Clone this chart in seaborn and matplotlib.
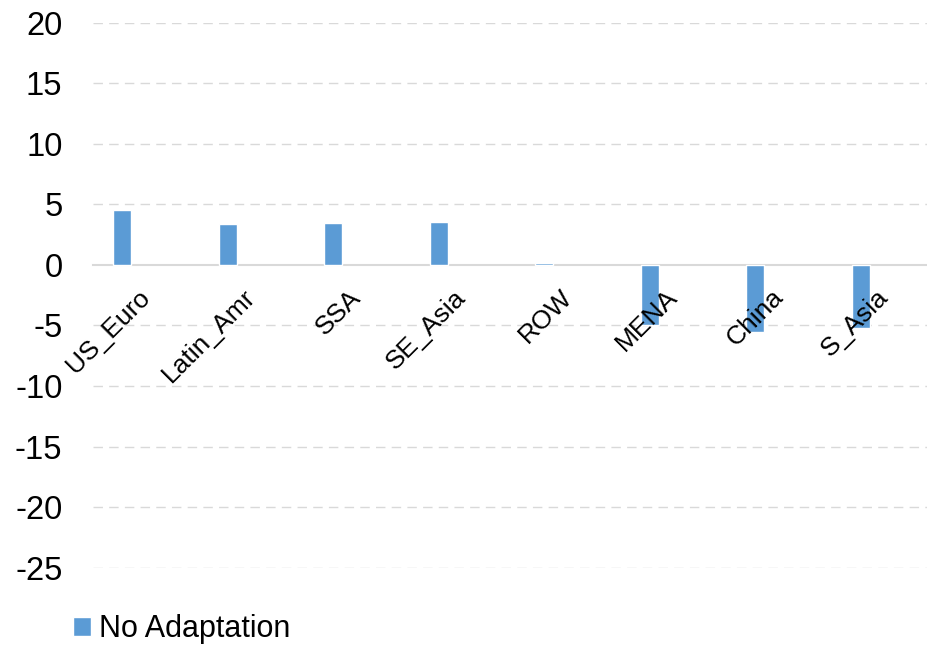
import pandas as pd
import numpy as np
import seaborn as sns
import matplotlib.pyplot as plt

# ==========================================================
# Data
# ==========================================================

regions = ["US_Euro", "Latin_Amr", "SSA", "SE_Asia", "ROW", "MENA", "China", "S_Asia"]
no_adaptation = [4.55, 3.4, 3.45, 3.55, 0.2, -4.95, -5.5, -5.2]
y_ticks = [-25, -20, -15, -10, -5, 0, 5, 10, 15, 20]

df = pd.DataFrame({"region": regions, "change": no_adaptation})

# ==========================================================
# Figure setup
# ==========================================================

sns.set_style("white")
plt.rcParams["font.family"] = ["Liberation Sans", "DejaVu Sans"]
plt.rcParams["text.color"] = "black"
plt.rcParams["xtick.color"] = "black"
plt.rcParams["ytick.color"] = "black"

fig = plt.figure(figsize=(9.28, 6.5), dpi=100)
ax = fig.add_axes([93 / 928, 1 - 567.7 / 650, 1 - 93 / 928, (567.7 - 22.7) / 650])

# dashed gridlines behind the bars
for t in y_ticks:
    if t != 0:
        ax.axhline(t, color="#D9D9D9", linewidth=1.0,
                   linestyle=(0, (6.8, 4.5)), zorder=0.5)

sns.barplot(
    data=df,
    x="region",
    y="change",
    color="#5B9BD5",
    saturation=1,
    width=0.17,
    label="No Adaptation",
    ax=ax
)

# solid zero line (moving the spine resets the ticks, so do it first)
for side in ["top", "right", "left"]:
    ax.spines[side].set_visible(False)
ax.spines["bottom"].set_position(("data", 0))
ax.spines["bottom"].set_color("#D9D9D9")
ax.spines["bottom"].set_linewidth(1.5)
ax.spines["bottom"].set_zorder(0.8)

# tick labels drawn on top of the bars
ax.set_axisbelow(False)
ax.grid(False)

ax.tick_params(axis="x", length=0, pad=20.5)
ax.tick_params(axis="y", length=0, pad=22)

# bars sit left of the category centre (Excel clustered layout)
offset = 0.225
ax.set_xlim(offset - 0.5, offset - 0.5 + 835 / 105.57)
ax.set_ylim(-25, 20)
ax.set_yticks(y_ticks)
ax.set_yticklabels([str(t) for t in y_ticks], fontsize=23.5)

ax.set_xticks(np.arange(len(regions)) + offset)
ax.set_xticklabels(regions, fontsize=19, rotation=45,
                   ha="right", va="center", rotation_mode="anchor")

ax.set_xlabel("")
ax.set_ylabel("")

ax.legend(
    loc="center left",
    bbox_to_anchor=(73 / 928, 1 - 629.5 / 650),
    bbox_transform=fig.transFigure,
    frameon=False,
    fontsize=22,
    handlelength=0.59,
    handleheight=0.59,
    handletextpad=0.26,
    borderpad=0,
    borderaxespad=0
)

plt.savefig("out.png", dpi=100)
